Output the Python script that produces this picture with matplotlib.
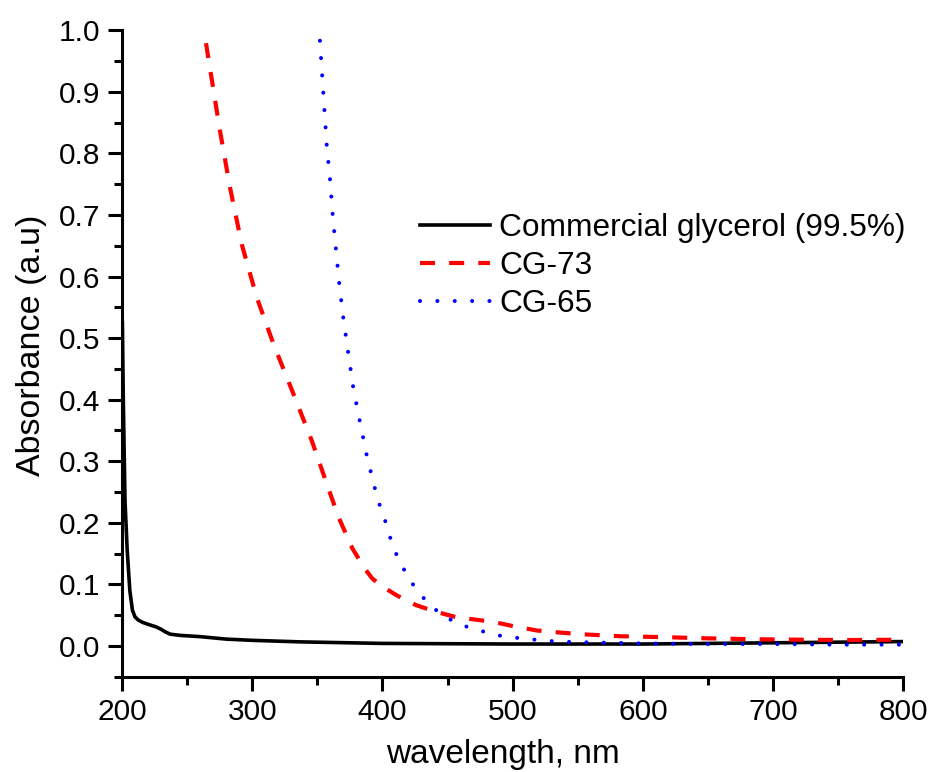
import matplotlib
matplotlib.use("Agg")
import matplotlib.pyplot as plt
from matplotlib.ticker import MultipleLocator, FormatStrFormatter

plt.rcParams['font.family'] = ['Liberation Sans', 'DejaVu Sans']

# commercial glycerol (99.5%)
wl_com = [200.3, 201, 202.3, 204, 206, 208, 210, 212.5, 216, 221.5, 226, 230,
          233, 237, 245, 260, 280, 300, 337, 400, 450, 500, 550, 600, 650,
          700, 750, 800]
abs_com = [0.525, 0.40, 0.236, 0.155, 0.09, 0.058, 0.047, 0.042, 0.038, 0.034,
           0.031, 0.027, 0.023, 0.019, 0.017, 0.015, 0.011, 0.009, 0.0065,
           0.004, 0.0035, 0.003, 0.003, 0.003, 0.004, 0.005, 0.006, 0.007]

# crude glycerol CG-73
wl_cg73 = [264.5, 275.3, 283, 292, 303.5, 316.4, 331.7, 345.8, 357.3, 366.3,
           377, 386.6, 392, 398, 411, 426, 441.7, 456, 470, 485, 500.6, 518.5,
           536, 552, 582.5, 620, 644, 680, 720, 760, 797]
abs_cg73 = [0.979, 0.836, 0.744, 0.652, 0.566, 0.49, 0.409, 0.333, 0.263,
            0.209, 0.158, 0.125, 0.11, 0.099, 0.082, 0.066, 0.055, 0.047,
            0.043, 0.039, 0.032, 0.025, 0.0217, 0.019, 0.0157, 0.014, 0.0125,
            0.011, 0.010, 0.0095, 0.010]

# crude glycerol CG-65
wl_cg65 = [352, 354.6, 357.2, 359.8, 361.8, 364.3, 366.9, 370, 373.8, 377.7,
           382.8, 388, 394.3, 398, 402, 405.8, 410, 415.6, 420.7, 427.6, 435.3,
           443, 452, 461, 471.6, 480, 489, 500.6, 512.6, 522, 531, 542, 552,
           600, 650, 700, 750, 800]
abs_cg65 = [0.983, 0.898, 0.814, 0.757, 0.70, 0.644, 0.587, 0.532, 0.475,
            0.418, 0.363, 0.309, 0.255, 0.228, 0.204, 0.177, 0.152, 0.128,
            0.108, 0.0875, 0.069, 0.055, 0.043, 0.0335, 0.027, 0.0217, 0.017,
            0.0136, 0.011, 0.009, 0.0076, 0.0065, 0.006, 0.004, 0.003, 0.003,
            0.002, 0.002]

fig = plt.figure(figsize=(9.32, 7.72), dpi=100)
ax = fig.add_axes([0.1309, 0.1235, 0.8383, 0.8373])

ax.plot(wl_com, abs_com, color='black', lw=2.6, label='Commercial glycerol (99.5%)')
ax.plot(wl_cg73, abs_cg73, color='red', lw=3.0, dashes=(3.6, 3.4),
        label='CG-73')
ax.plot(wl_cg65, abs_cg65, color='blue', lw=2.9, dashes=(0.01, 4.3),
        dash_capstyle='round', label='CG-65')

ax.set_xlim(200, 800)
ax.set_ylim(-0.05, 1.0)
ax.xaxis.set_major_locator(MultipleLocator(100))
ax.xaxis.set_minor_locator(MultipleLocator(50))
ax.yaxis.set_major_locator(MultipleLocator(0.1))
ax.yaxis.set_minor_locator(MultipleLocator(0.05))
ax.yaxis.set_major_formatter(FormatStrFormatter('%.1f'))

for side in ['top', 'right']:
    ax.spines[side].set_visible(False)
for side in ['left', 'bottom']:
    ax.spines[side].set_linewidth(2.2)

ax.tick_params(which='major', direction='out', length=10.3, width=2.2,
               labelsize=21.5, pad=5)
ax.tick_params(which='minor', direction='out', length=5.5, width=2.2)

# axis titles placed in axes coordinates
ax.set_xlabel('wavelength, nm', fontsize=24, va='top')
ax.xaxis.set_label_coords(0.487, -0.097)
ax.set_ylabel('Absorbance (a.u)', fontsize=24.5)
ax.yaxis.set_label_coords(-0.096, 0.512)

leg = ax.legend(loc='upper left', bbox_to_anchor=(420 / 932, 1 - 213 / 772),
                bbox_transform=fig.transFigure, frameon=False, fontsize=22.8,
                handlelength=2.2, handletextpad=0.3, labelspacing=0.25,
                borderpad=0, borderaxespad=0)

fig.savefig('out.png', dpi=100, facecolor='white')
